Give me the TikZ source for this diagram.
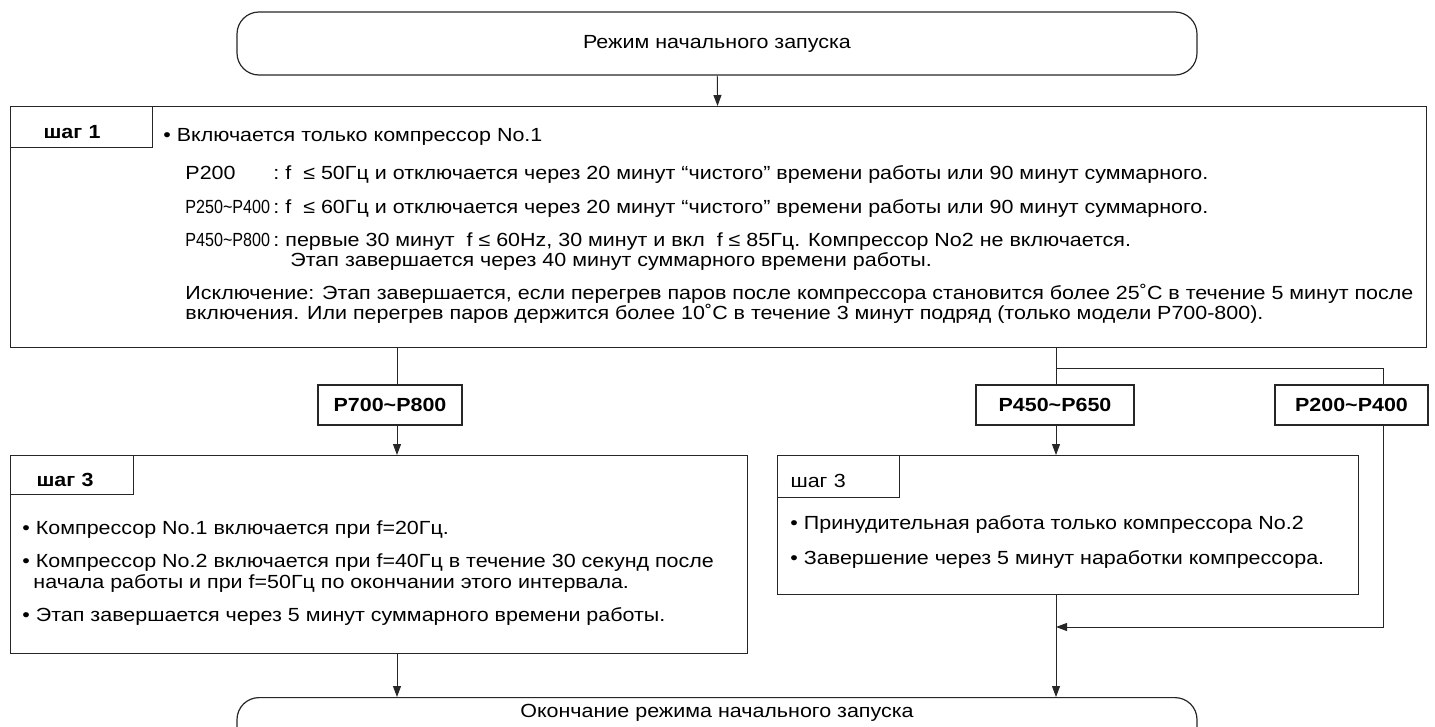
\documentclass[tikz,border=0pt]{standalone}
\usepackage{fontspec}
\setmainfont{Liberation Sans}[FakeStretch=1.13]
\usepackage{tikz}
\usetikzlibrary{arrows.meta,positioning}

\newcommand{\narrowlbl}[1]{\scalebox{0.75}[1]{#1}}

\begin{document}
\begin{tikzpicture}[x=1pt, y=-1pt, line width=0.9pt, draw=black!85,
    every node/.style={font=\fontsize{19}{22}\selectfont},
    >={Triangle[length=11pt,width=8pt]},
    term/.style={draw, line width=1.2pt, rounded corners=22pt, minimum width=960pt, minimum height=63pt},
    stepbox/.style={draw, line width=1.2pt, anchor=north west, inner sep=0pt},
    tabbox/.style={draw, line width=1.1pt, anchor=north west, inner xsep=#1, inner ysep=0pt, align=left, text height=22pt, text depth=0pt},
    model/.style={draw, line width=1.2pt, font=\fontsize{19}{22}\selectfont\bfseries, minimum height=40pt},
    txt/.style={anchor=base west, inner sep=0pt}]
                \useasboundingbox (0,0) rectangle (1435,726);
                \node[term] (start) at (717,43.5) {Режим начального запуска};
                \node[stepbox, minimum width=1416pt, minimum height=241pt] (s1) at (10,106) {};
                \node[tabbox=33pt, text width=76pt, minimum height=41pt] (t1) at (s1.north west) {\bfseries шаг 1};
                \node[txt] (s1a) at (163,141) {• Включается только компрессор No.1};
                \node[txt] (s1b) at (185,179) {P200};
                \node[txt] (s1c) at (273,179) {:\ f\ \ ≤ 50Гц и отключается через 20 минут “чистого” времени работы или 90 минут суммарного.};
                \node[txt] (s1d) at (185,213) {\narrowlbl{P250\char`~P400}};
                \node[txt] (s1e) at (273,213) {:\ f\ \ ≤ 60Гц и отключается через 20 минут “чистого” времени работы или 90 минут суммарного.};
                \node[txt] (s1f) at (185,246) {\narrowlbl{P450\char`~P800}};
                \node[txt] (s1g) at (273,246) {:\ первые 30 минут\ \ f ≤ 60Hz, 30 минут и вкл\ \ f ≤ 85Гц. Компрессор No2 не включается.};
                \node[txt] (s1h) at (290,266) {Этап завершается через 40 минут суммарного времени работы.};
                \node[txt] (s1i) at (185,299) {Исключение: Этап завершается, если перегрев паров после компрессора становится более 25˚C в течение 5 минут после};
                \node[txt] (s1j) at (185,319) {включения. Или перегрев паров держится более 10˚C в течение 3 минут подряд (только модели P700-800).};
                \node[model, minimum width=144pt] (m7) at (390,405) {P700\char`~P800};
                \node[model, minimum width=158pt] (m4) at (1055,405) {P450\char`~P650};
                \node[model, minimum width=153pt] (m2) at (1351.5,405) {P200\char`~P400};
                \coordinate (c7) at (397,348);
                \coordinate (br) at (1383,368);
                \coordinate (jn) at (1056,627);
                \node[stepbox, minimum width=737pt, minimum height=198pt] (l3) at (10,455) {};
                \node[tabbox=26pt, text width=71pt, minimum height=39pt] (lt) at (l3.north west) {\bfseries шаг 3};
                \node[txt] (l3a) at (22,534) {• Компрессор No.1 включается при f=20Гц.};
                \node[txt] (l3b) at (22,567) {• Компрессор No.2 включается при f=40Гц в течение 30 секунд после};
                \node[txt] (l3c) at (33,588) {начала работы и при f=50Гц по окончании этого интервала.};
                \node[txt] (l3d) at (22,621) {• Этап завершается через 5 минут суммарного времени работы.};
                \node[stepbox, minimum width=581pt, minimum height=139pt] (r3) at (777,455) {};
                \node[tabbox=13pt, text width=96pt, minimum height=42pt] (rt) at (r3.north west) {шаг 3};
                \node[txt] (r3a) at (790,529) {• Принудительная работа только компрессора No.2};
                \node[txt] (r3b) at (790,564) {• Завершение через 5 минут наработки компрессора.};
                \node[term, anchor=north, minimum height=0pt, inner ysep=6pt, text height=14pt, text depth=45pt] (stop) at (717,697) {Окончание режима начального запуска};
                \draw[->] (start) -- (s1);
                \draw (c7) -- (c7 |- m7.north);
                \draw[->] (c7 |- m7.south) -- (c7 |- l3.north);
                \draw[->] (l3.south -| c7) -- (c7 |- stop.north);
                \draw (s1.south -| jn) -- (jn |- m4.north);
                \draw (br -| jn) -- (br) -- (m2.north -| br);
                \draw[->] (jn |- m4.south) -- (jn |- r3.north);
                \draw[->] (m2.south -| br) |- (jn);
                \draw[->] (r3.south -| jn) -- (jn |- stop.north);
            \end{tikzpicture}
\end{document}
